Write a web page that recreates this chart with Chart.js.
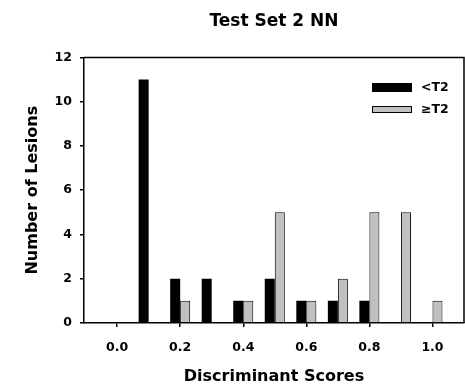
<!DOCTYPE html>
<html>
<head>
<meta charset="utf-8">
<script src="https://cdn.jsdelivr.net/npm/chart.js@4"></script>
<style>
  body { margin: 0; background: #fff; }
  #wrap { width: 465px; height: 390px; }
</style>
</head>
<body>
<div id="wrap"><canvas id="grafik" width="465" height="390"></canvas></div>
<script>
// data
const skor = [0.1, 0.2, 0.3, 0.4, 0.5, 0.6, 0.7, 0.8, 0.9, 1.0];
const kurangT2 = [11, 2, 2, 1, 2, 1, 1, 1, null, null];
const lebihT2 = [null, 1, null, 1, 5, 1, 2, 5, 5, 1];
const tickX = [0.0, 0.2, 0.4, 0.6, 0.8, 1.0];
const labelSeri = ["<T2", "\u2265T2"];

const hurufTebal = (size) => ({ family: "'DejaVu Sans'", weight: "bold", size: size });

// bingkai atas dan kanan
const bingkai = {
    id: "bingkai",
    afterDraw(chart) {
        const { ctx, chartArea } = chart;
        ctx.save();
        ctx.strokeStyle = "#000";
        ctx.lineWidth = 1.5;
        ctx.beginPath();
        ctx.moveTo(chartArea.left, chartArea.top);
        ctx.lineTo(chartArea.right, chartArea.top);
        ctx.lineTo(chartArea.right, chartArea.bottom);
        ctx.stroke();
        ctx.restore();
    }
};

// legenda di dalam area grafik
const legendaDalam = {
    id: "legendaDalam",
    afterDraw(chart) {
        const ctx = chart.ctx;
        const kotak = [{ y: 83, h: 9 }, { y: 106, h: 7 }];
        ctx.save();
        chart.data.datasets.forEach((ds, i) => {
            const k = kotak[i];
            ctx.fillStyle = ds.backgroundColor;
            ctx.fillRect(372, k.y, 40, k.h);
            ctx.strokeStyle = "#000";
            ctx.lineWidth = 1;
            ctx.strokeRect(372.5, k.y + 0.5, 39, k.h - 1);
            ctx.fillStyle = "#000";
            ctx.font = "bold 12.5px 'DejaVu Sans'";
            ctx.textBaseline = "middle";
            ctx.fillText(ds.label, 421, k.y + k.h / 2 + 0.5);
        });
        ctx.restore();
    }
};

const ctx = document.getElementById("grafik").getContext("2d");
new Chart(ctx, {
    type: "bar",
    data: {
        datasets: [
            {
                label: labelSeri[0],
                data: skor.map((x, i) => ({ x: x, y: kurangT2[i] })),
                backgroundColor: "#000000",
                borderWidth: 0
            },
            {
                label: labelSeri[1],
                data: skor.map((x, i) => ({ x: x, y: lebihT2[i] })),
                backgroundColor: "#c0c0c0",
                borderColor: "#000000",
                borderWidth: 1
            }
        ]
    },
    options: {
        responsive: false,
        animation: false,
        layout: { padding: { left: 0, right: 1, top: 0, bottom: 0 } },
        datasets: { bar: { categoryPercentage: 0.635, barPercentage: 1.0 } },
        plugins: {
            legend: { display: false },
            tooltip: { enabled: false },
            title: {
                display: true,
                text: "Test Set 2 NN",
                fullSize: false,
                color: "#000",
                font: hurufTebal(17),
                padding: { top: 11, bottom: 26 }
            }
        },
        scales: {
            x: {
                type: "linear",
                offset: false,
                min: -0.105,
                max: 1.1,
                afterBuildTicks: (scale) => { scale.ticks = tickX.map(v => ({ value: v })); },
                afterFit: (scale) => { scale.height = 67; },
                ticks: {
                    color: "#000",
                    font: hurufTebal(12.5),
                    padding: 13,
                    maxRotation: 0,
                    callback: (v) => Number(v).toFixed(1)
                },
                grid: { offset: false, drawOnChartArea: false, drawTicks: true, tickLength: 4, color: "#000", lineWidth: 1.5 },
                border: { display: true, color: "#000", width: 1.5 },
                title: {
                    display: true,
                    text: "Discriminant Scores",
                    color: "#000",
                    font: hurufTebal(16),
                    padding: { top: 0, bottom: 4 }
                }
            },
            y: {
                min: 0,
                max: 12,
                afterFit: (scale) => { scale.width = 84; },
                ticks: {
                    stepSize: 2,
                    color: "#000",
                    font: hurufTebal(12.5),
                    padding: 8
                },
                grid: { drawOnChartArea: false, drawTicks: true, tickLength: 4, color: "#000", lineWidth: 1.5 },
                border: { display: true, color: "#000", width: 1.5 },
                title: {
                    display: true,
                    text: "Number of Lesions",
                    color: "#000",
                    font: hurufTebal(16),
                    padding: { top: 23, bottom: 0 }
                }
            }
        }
    },
    plugins: [bingkai, legendaDalam]
});
</script>
</body>
</html>
